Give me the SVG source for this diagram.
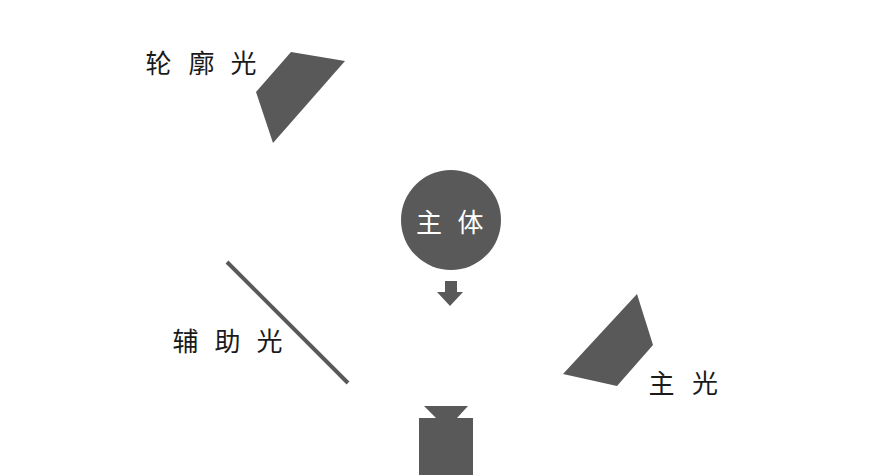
<svg xmlns="http://www.w3.org/2000/svg" width="892" height="475" viewBox="0 0 892 475">
<style>
.shape{fill:#595959;}
.lbl{font-family:"Noto Sans CJK SC","Noto Sans",sans-serif;font-size:26px;fill:#1a1a1a;text-anchor:middle;}
.inv{fill:#ffffff;}
</style>
<rect width="892" height="475" fill="#ffffff"/>
<g id="rim-light">
<polygon class="shape" points="291,52 345,61 273,143 256,92"/>
<text class="lbl" y="73"><tspan x="158.5">轮</tspan><tspan x="201.5">廓</tspan><tspan x="243.5">光</tspan></text>
</g>
<g id="subject">
<circle class="shape" cx="451" cy="220" r="50"/>
<text class="lbl inv" y="232"><tspan x="429">主</tspan><tspan x="470.5">体</tspan></text>
</g>
<g id="fill-light">
<line x1="227" y1="262" x2="348" y2="383" stroke="#595959" stroke-width="4"/>
<text class="lbl" y="351"><tspan x="185.5">辅</tspan><tspan x="227.5">助</tspan><tspan x="269.5">光</tspan></text>
</g>
<g id="key-light">
<polygon class="shape" points="637,294 653,345 617,386 563,374"/>
<text class="lbl" y="393"><tspan x="661.5">主</tspan><tspan x="705">光</tspan></text>
</g>
<g id="camera">
<polygon class="shape" points="424,406 468,406 457,418 436,418"/>
<rect class="shape" x="419" y="418" width="54" height="57"/>
</g>
<g id="connectors">
<polygon class="shape" points="445,281 457,281 457,292 463,292 450,306 437,292 445,292"/>
</g>
</svg>
